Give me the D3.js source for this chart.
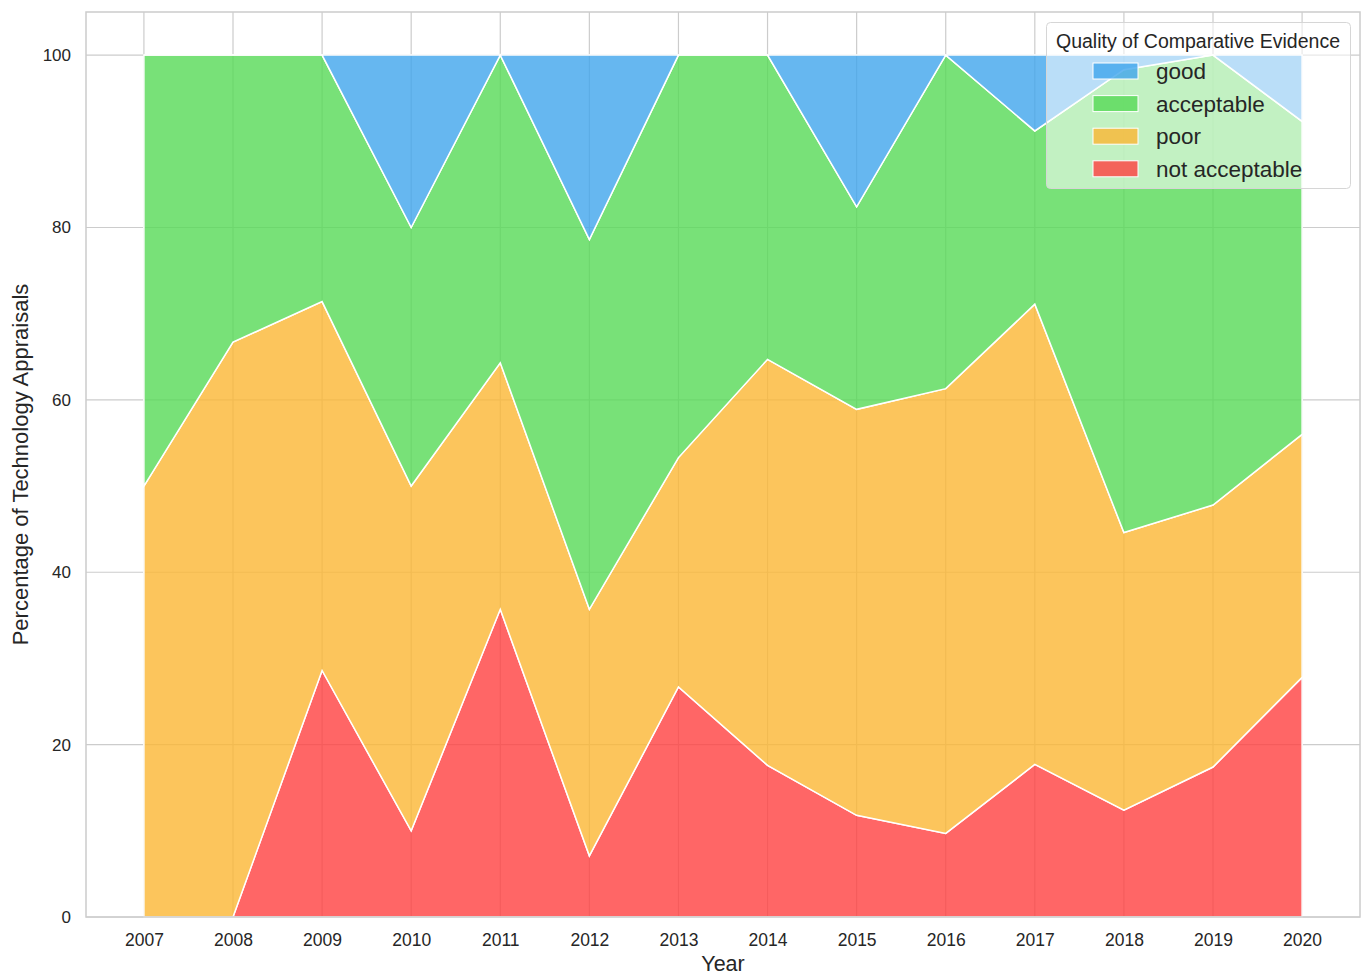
<!DOCTYPE html>
<html>
<head>
<meta charset="utf-8">
<script src="https://cdn.jsdelivr.net/npm/d3@7"></script>
<style>
  html, body { margin: 0; padding: 0; background: #ffffff; }
  svg { display: block; font-family: "Liberation Sans", Arial, "DejaVu Sans", sans-serif; }
</style>
</head>
<body>
<svg id="chart" width="1363" height="977"></svg>
<script>
// ---- data ----
const years = [2007, 2008, 2009, 2010, 2011, 2012, 2013, 2014, 2015, 2016, 2017, 2018, 2019, 2020];
const notAcceptable = [0, 0, 28.6, 10.0, 35.7, 7.1, 26.7, 17.6, 11.8, 9.7, 17.7, 12.4, 17.4, 27.8];
const poor          = [50.0, 66.7, 42.8, 40.0, 28.6, 28.6, 26.6, 47.1, 47.1, 51.6, 53.4, 32.2, 30.4, 28.2];
const acceptable    = [50.0, 33.3, 28.6, 30.0, 35.7, 42.9, 46.7, 35.3, 23.5, 38.7, 20.1, 53.7, 52.2, 36.3];
const good          = [0, 0, 0, 20.0, 0, 21.4, 0, 0, 17.6, 0, 8.8, 1.7, 0, 7.7];
const seriesNames = ["not acceptable", "poor", "acceptable", "good"];
const seriesColors = ["#ff4040", "#fbb733", "#56da56", "#40a5ec"];
const legendOrder = ["good", "acceptable", "poor", "not acceptable"];
const yTicks = [0, 20, 40, 60, 80, 100];
const legendTitle = "Quality of Comparative Evidence";
const xLabel = "Year";
const yLabel = "Percentage of Technology Appraisals";

// ---- layout ----
const svg = d3.select("#chart");
const L = 86, R = 1360, T = 12, B = 917;
const textColor = "#262626";
const gridColor = "#cccccc";

const x = d3.scaleLinear().domain([2006.35, 2020.65]).range([L, R]);
const y = d3.scaleLinear().domain([0, 105]).range([B, T]);

const table = years.map((yr, i) => ({
  year: yr,
  "not acceptable": notAcceptable[i],
  "poor": poor[i],
  "acceptable": acceptable[i],
  "good": good[i]
}));
const stacked = d3.stack().keys(seriesNames)(table);
const color = d3.scaleOrdinal().domain(seriesNames).range(seriesColors);

// grid
const grid = svg.append("g");
grid.selectAll("line.h").data(yTicks).join("line")
  .attr("x1", L).attr("x2", R)
  .attr("y1", d => y(d)).attr("y2", d => y(d))
  .attr("stroke", gridColor).attr("stroke-width", 1.2);
grid.selectAll("line.v").data(years).join("line")
  .attr("y1", T).attr("y2", B)
  .attr("x1", d => x(d)).attr("x2", d => x(d))
  .attr("stroke", gridColor).attr("stroke-width", 1.2);

// areas
const area = d3.area()
  .x(d => x(d.data.year))
  .y0(d => y(d[0]))
  .y1(d => y(d[1]));
svg.append("g").selectAll("path").data(stacked).join("path")
  .attr("d", area)
  .attr("fill", d => color(d.key))
  .attr("fill-opacity", 0.8)
  .attr("stroke", "#ffffff")
  .attr("stroke-width", 1.5)
  .attr("stroke-linejoin", "miter");

// frame (spines)
svg.append("rect")
  .attr("x", L).attr("y", T).attr("width", R - L).attr("height", B - T)
  .attr("fill", "none").attr("stroke", gridColor).attr("stroke-width", 1.5);

// x axis
const xAxis = d3.axisBottom(x).tickValues(years).tickFormat(d3.format("d")).tickSize(0).tickPadding(17);
const gx = svg.append("g").attr("transform", `translate(0,${B})`).call(xAxis);
gx.select(".domain").remove();
gx.selectAll("text").attr("font-size", 17.5).attr("fill", textColor).attr("font-family", "Liberation Sans, Arial, sans-serif");

// y axis
const yAxis = d3.axisLeft(y).tickValues(yTicks).tickFormat(d3.format("d")).tickSize(0).tickPadding(15);
const gy = svg.append("g").attr("transform", `translate(${L},0)`).call(yAxis);
gy.select(".domain").remove();
gy.selectAll("text").attr("font-size", 17).attr("fill", textColor).attr("font-family", "Liberation Sans, Arial, sans-serif");

// axis labels
svg.append("text")
  .attr("x", (L + R) / 2).attr("y", 971)
  .attr("text-anchor", "middle")
  .attr("font-size", 21.5).attr("fill", textColor)
  .text(xLabel);
svg.append("text")
  .attr("transform", `translate(28,${(T + B) / 2}) rotate(-90)`)
  .attr("text-anchor", "middle")
  .attr("font-size", 22).attr("fill", textColor)
  .text(yLabel);

// legend
const lg = svg.append("g");
lg.append("rect")
  .attr("x", 1046.5).attr("y", 22.5).attr("width", 304).attr("height", 166)
  .attr("rx", 4).attr("ry", 4)
  .attr("fill", "#ffffff").attr("fill-opacity", 0.55)
  .attr("stroke", "#d6d6d6").attr("stroke-width", 1);
lg.append("text")
  .attr("x", 1198).attr("y", 48)
  .attr("text-anchor", "middle")
  .attr("font-size", 19.5).attr("fill", textColor)
  .text(legendTitle);
const items = lg.selectAll("g.item").data(legendOrder).join("g")
  .attr("transform", (d, i) => `translate(0,${71 + i * 32.6})`);
items.append("rect")
  .attr("x", 1093).attr("y", -8).attr("width", 45).attr("height", 16)
  .attr("fill", d => color(d)).attr("fill-opacity", 0.8)
  .attr("stroke", "#ffffff").attr("stroke-width", 1);
items.append("text")
  .attr("x", 1156).attr("y", 8)
  .attr("font-size", 22.5).attr("fill", textColor)
  .text(d => d);
</script>
</body>
</html>
